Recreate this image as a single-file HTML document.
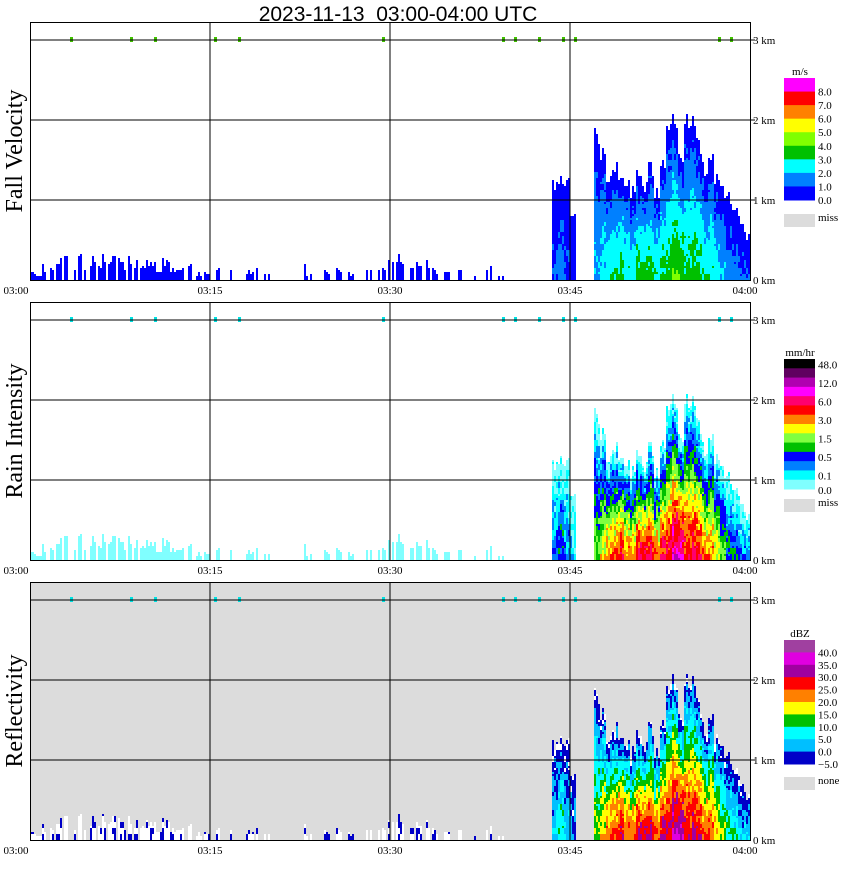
<!DOCTYPE html>
<html><head><meta charset="utf-8"><style>
body{margin:0;background:#fff;width:850px;height:868px;overflow:hidden}
svg text{font-family:"Liberation Serif",serif}
</style></head><body>
<svg id="chart" width="850" height="868" xmlns="http://www.w3.org/2000/svg">
<text x="398" y="21" text-anchor="middle" font-size="21" style="font-family:'Liberation Sans',sans-serif">2023-11-13&#160;&#160;03:00-04:00 UTC</text>
</svg>
<script>
// ---- data: 120 half-minute columns, 03:00 - 04:00 ----
const colMinutes = Array.from({length:120},(_,i)=>i*0.5);
const echoTopKm = [
0.15,0.1,0.2,0.3,0.35,0.3,0.4,0.3,0.35,0.25,0.4,0.3,0.35,0.3,0.3,0.25,0.35,0.3,0.3,0.25,0.3,0.2,0.3,0.25,0.2,0.3,0.2,0.15,0.1,
0.1,0,0.15,0,0.2,0,0,0.15,0.2,0,0.1,0,0,0,0.15,0,0.2,0.1,0,0,0.15,0,0.2,0,0.1,0,0,0.15,0,0.2,0.3,
0.45,0.4,0.3,0.35,0.25,0.2,0.3,0.15,
0,0.1,0,0.15,0,0,0.1,0,0.2,0,0.1,0,0,0,0,0,0,0,0,
1.3,1.35,1.3,0.9,0,0,0,
2.0,1.7,1.4,1.5,1.3,1.3,1.2,1.4,1.3,1.5,1.2,1.6,2.0,2.1,1.6,2.2,2.1,1.8,1.5,1.6,1.4,1.2,1.1,1.0,0.8,0.6];
const peakDbz = [];
for (let i=0;i<87;i++) peakDbz.push(-6);
const stormPeak = [5,10,5,0,0,0,0,15,20,25,25,30,25,25,30,30,30,25,30,30,35,35,30,30,30,25,25,20,15,10,10,5,5];
stormPeak.forEach(v=>peakDbz.push(v));
const timeLabels = ["03:00","03:15","03:30","03:45","04:00"];
const timeTicks = [0,15,30,45,60];
const kmTicks = [0,1,2,3];

const NS="http://www.w3.org/2000/svg";
const svg=document.getElementById('chart');
function el(tag,attrs,parent){const e=document.createElementNS(NS,tag);for(const k in attrs)e.setAttribute(k,attrs[k]);(parent||svg).appendChild(e);return e;}
const X0=30,W=720,PH=258;
const xs=m=>X0+m*12;
function hash(a,b){let h=(a*374761393+b*668265263)>>>0;h=((h^(h>>>13))*1274126177)>>>0;return ((h^(h>>>16))>>>0)/4294967296;}

const velColors=["#0000ff","#0080ff","#00ffff","#00c000","#80ff00","#ffff00","#ff8000","#ff0000","#ff00ff"];
const rainColors=["#80ffff","#00ffff","#0080ff","#0000ff","#00c000","#80ff40","#ffff00","#ff8000","#ff0000","#ff0070","#ff00ff","#b000b0","#600060","#000000"];
const dbzColors=["#0000c8","#00bfff","#00ffff","#00c000","#ffff00","#ff8000","#ff0000","#a000a0","#e000e0","#a040a0"];
function colVel(d){let v=(d+7)/11;if(v<0)v=0;return velColors[Math.min(8,Math.floor(v))];}
function colRain(d){if(d<-2)return rainColors[0];return rainColors[Math.min(12,1+Math.floor((d+2)/4))];}
function colDbz(d){if(d<-5)return "#ffffff";return dbzColors[Math.min(9,Math.floor((d+5)/5))];}

const panels=[
 {top:22,name:"fall-velocity",title:"Fall Velocity",bg:"#ffffff",cf:colVel,unit:"m/s",colors:velColors.slice().reverse(),lt:78,lb:200,labels:["8.0","7.0","6.0","5.0","4.0","3.0","2.0","1.0","0.0"],missLabel:"miss",missY:214},
 {top:302,name:"rain-intensity",title:"Rain Intensity",bg:"#ffffff",cf:colRain,unit:"mm/hr",colors:rainColors.slice().reverse(),lt:359,lb:489,labels:["48.0","","12.0","","6.0","","3.0","","1.5","","0.5","","0.1","0.0"],missLabel:"miss",missY:499},
 {top:582,name:"reflectivity",title:"Reflectivity",bg:"#dcdcdc",cf:colDbz,unit:"dBZ",colors:dbzColors.slice().reverse(),lt:640,lb:764,labels:["40.0","35.0","30.0","25.0","20.0","15.0","10.0","5.0","0.0","\u22125.0"],missLabel:"none",missY:777}
];

const RH=0.025; // row height km (2px)
panels.forEach(p=>{
 const g=el('g',{});  
 const yB=p.top+PH; const ys=h=>yB-h*80;
 const bg=el('rect',{x:X0,y:p.top,width:W,height:PH,fill:p.bg},g);
  
 const marks=el('g',{},g);  
 colMinutes.forEach((m,i)=>{
  const top=echoTopKm[i], pk=peakDbz[i]; if(!top)return;
  for(let s=0;s<3;s++){
   const drz=pk<0;
   const f=drz?(hash(i,s+7)<0.3?0:0.4+0.6*hash(i,s+3)):(0.85+0.15*hash(i,s+3));
   const st=top*f; if(st<=0)continue;
   const nRows=Math.round(st/RH); let runStart=0, runCol=null;
   for(let r=0;r<=nRows;r++){
    let c=null;
    if(r<nRows){const h=r*RH;const j=hash(i*3+s,Math.floor(r/3))*8-4;
      const d=drz?pk+j:pk-(pk+5)*Math.pow(h/st,1.3)+j; c=p.cf(d);}
    if(c!==runCol){
      if(runCol!==null){const rc=el('rect',{x:xs(m)+s*2,y:ys(r*RH),width:2,height:(r-runStart)*2,fill:runCol},marks);
         }
      runCol=c; runStart=r;
    }
   }
  }
 });
 [3,8,10,15,17,29,39,40,42,44,45,57,58].forEach(k=>{const r=el('rect',{x:xs(k*1.0)+4,y:ys(3)-3,width:3,height:5,fill:p.name==="fall-velocity"?"#40c000":"#00e0e0"},g);
    });
 kmTicks.forEach(k=>{
  if(k>0){const l=el('line',{x1:X0,x2:X0+W+5,y1:ys(k),y2:ys(k),stroke:"#000","stroke-width":1},g);
    }
  const t=el('text',{x:753,y:ys(k)+4,"font-size":11},g); t.textContent=k+" km";
   
 });
 timeTicks.forEach((m,i)=>{
  if(m>0&&m<60){const l=el('line',{x1:xs(m),x2:xs(m),y1:p.top,y2:yB,stroke:"#000"},g);
    }
  const t=el('text',{x:xs(m),y:yB+14,"font-size":11,"text-anchor":"middle"},g); t.textContent=timeLabels[i];
  if(i===0)t.setAttribute('x',16);
  if(i===4)t.setAttribute('x',745);
   
 });
 const fr=el('rect',{x:X0+0.5,y:p.top+0.5,width:W,height:PH,fill:"none",stroke:"#000"},g);
  
 const yt=el('text',{transform:`translate(22,${p.top+PH/2}) rotate(-90)`,"text-anchor":"middle","font-size":24},g); yt.textContent=p.title;
  
 const lg=el('g',{},g);  
 const u=el('text',{x:800,y:p.lt-3,"font-size":11,"text-anchor":"middle"},lg); u.textContent=p.unit;
  
 const n=p.colors.length, bh=(p.lb-p.lt)/n;
 p.colors.forEach((c,k)=>{const r=el('rect',{x:784,y:p.lt+k*bh,width:31,height:bh+0.5,fill:c},lg);
    
   if(p.labels[k]){const t=el('text',{x:818,y:p.lt+(k+1)*bh+(p.name==="rain-intensity"?0:4),"font-size":11},lg);t.textContent=p.labels[k];
   if(p.name==="rain-intensity"&&k===13)t.setAttribute('y',p.lb+5);
    }
 });
 const mr=el('rect',{x:784,y:p.missY,width:31,height:13,fill:"#dcdcdc"},lg);
  
 const mt=el('text',{x:818,y:p.missY+7,"font-size":11},lg); mt.textContent=p.missLabel;
  
});
</script>
</body></html>
